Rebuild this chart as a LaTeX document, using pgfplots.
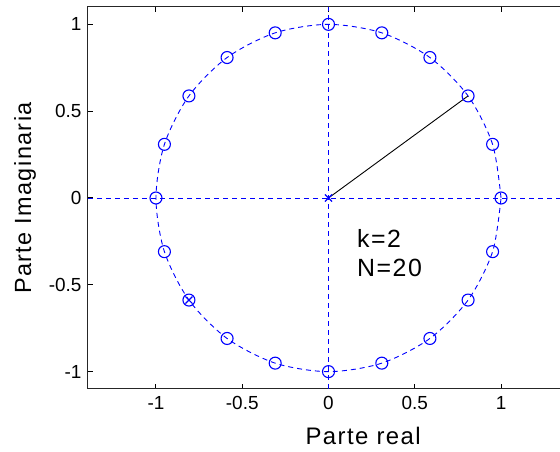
\documentclass[border=0pt]{standalone}
\usepackage{fontspec}
\setmainfont{Liberation Sans}
\newfontfamily\widefont[LetterSpace=6]{Liberation Sans}
\usepackage{pgfplots}
\pgfplotsset{compat=1.18}
\begin{document}
\begin{tikzpicture}
\begin{axis}[name=ax, scale only axis, width=481bp, height=382bp,
  xmin=-1.394, xmax=1.394, ymin=-1.1, ymax=1.1,
  xtick={-1,-0.5,0,0.5,1}, ytick={-1,-0.5,0,0.5,1},
  tick align=inside, major tick length=5bp,
  tick style={black, line width=1bp},
  axis line style={line width=1bp, black!85},
  /pgf/number format/assume math mode=true,
  ticklabel style={font=\fontsize{19}{21}\selectfont},
  xticklabel style={yshift=-4bp},
  yticklabel style={xshift=-3bp},
  xlabel={Parte real}, ylabel={Parte Imaginaria},
  xlabel style={font=\widefont\fontsize{24}{26}\selectfont, at={(axis description cs:0.572,-0.123)}, anchor=center},
  ylabel style={font=\widefont\fontsize{23.5}{25}\selectfont, at={(axis description cs:-0.131,0.5)}, anchor=center},
  clip=false,
]
\addplot[blue, dash pattern=on 5bp off 4bp, line width=0.9bp] coordinates {(-1.394,0) (1.394,0)};
\addplot[blue, dash pattern=on 5bp off 4bp, line width=0.9bp] coordinates {(0,-1.1) (0,1.1)};
\addplot[blue, smooth, dash pattern=on 5bp off 4bp, line width=0.9bp] coordinates {
(1,0) (0.9511,0.3090) (0.8090,0.5878) (0.5878,0.8090) (0.3090,0.9511)
(0,1) (-0.3090,0.9511) (-0.5878,0.8090) (-0.8090,0.5878) (-0.9511,0.3090)
(-1,0) (-0.9511,-0.3090) (-0.8090,-0.5878) (-0.5878,-0.8090) (-0.3090,-0.9511)
(0,-1) (0.3090,-0.9511) (0.5878,-0.8090) (0.8090,-0.5878) (0.9511,-0.3090) (1,0)};
\addplot[blue, only marks, mark=o, mark size=6bp, mark options={line width=1.1bp}] coordinates {
(1,0) (0.9511,0.3090) (0.8090,0.5878) (0.5878,0.8090) (0.3090,0.9511)
(0,1) (-0.3090,0.9511) (-0.5878,0.8090) (-0.8090,0.5878) (-0.9511,0.3090)
(-1,0) (-0.9511,-0.3090) (-0.8090,-0.5878) (-0.5878,-0.8090) (-0.3090,-0.9511)
(0,-1) (0.3090,-0.9511) (0.5878,-0.8090) (0.8090,-0.5878) (0.9511,-0.3090)};
\addplot[black, line width=0.9bp] coordinates {(0,0) (0.8090,0.5878)};
\addplot[blue, only marks, mark=x, mark size=5bp, mark options={line width=1.1bp}] coordinates {(0,0) (-0.8090,-0.5878)};
\node[anchor=west, inner sep=0pt, font=\widefont\fontsize{25}{27}\selectfont] at (axis cs:0.165,-0.232) {k=2};
\node[anchor=west, inner sep=0pt, font=\widefont\fontsize{25}{27}\selectfont] at (axis cs:0.165,-0.405) {N=20};
\end{axis}
\pgfresetboundingbox
\path[use as bounding box] ([xshift=-88bp,yshift=-63bp]ax.south west) rectangle ([xshift=-9bp,yshift=7bp]ax.north east);
\end{tikzpicture}
\end{document}
